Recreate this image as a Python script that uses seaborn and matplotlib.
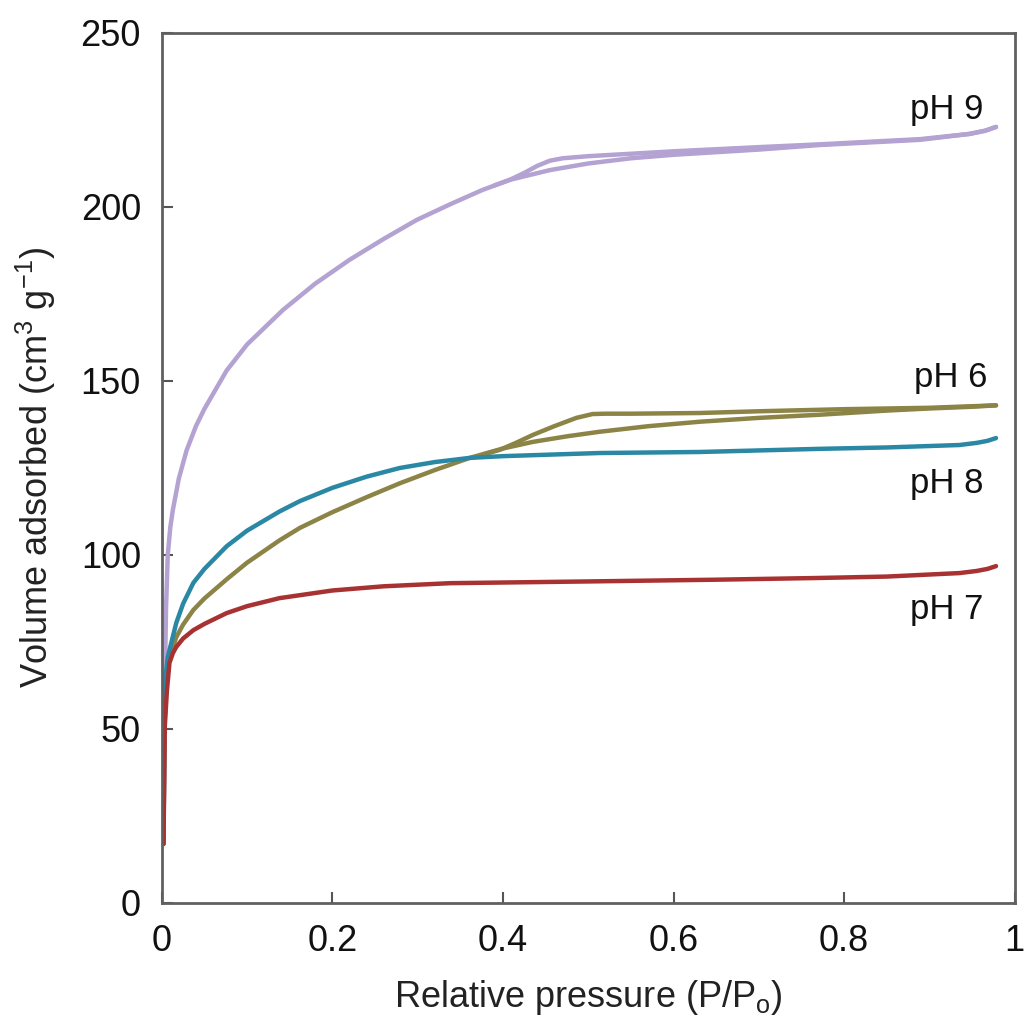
import numpy as np
import matplotlib
matplotlib.use('Agg')
import matplotlib.pyplot as plt
import seaborn as sns

# pH 9 isotherm (adsorption / desorption branch)
x_ph9_ads = [0.002, 0.003, 0.004, 0.005, 0.007, 0.01, 0.013, 0.02, 0.029, 0.04, 0.05, 0.076, 0.1, 0.142,
             0.18, 0.22, 0.26, 0.299, 0.34, 0.376, 0.408, 0.455, 0.5, 0.55, 0.6, 0.7, 0.771, 0.889,
             0.947, 0.965, 0.978]
y_ph9_ads = [17, 45, 70, 85, 100, 108, 113, 122, 130, 137, 142, 153, 160.5, 170.4,
             178, 184.8, 190.8, 196.3, 201, 204.9, 207.8, 210.6, 212.5, 214, 215, 216.5, 217.8, 219.3,
             221.0, 221.9, 223]
x_ph9_des = [0.978, 0.965, 0.947, 0.889, 0.771, 0.7, 0.6, 0.5, 0.47, 0.455, 0.44, 0.425, 0.408, 0.39]
y_ph9_des = [223, 221.9, 221.0, 219.5, 218, 217.2, 216, 214.6, 214, 213.3, 211.8, 209.8, 207.8, 206.2]

# pH 6
x_ph6_ads = [0.002, 0.003, 0.005, 0.009, 0.017, 0.025, 0.037, 0.05, 0.076, 0.1, 0.138, 0.162, 0.2,
             0.24, 0.279, 0.32, 0.361, 0.4, 0.435, 0.475, 0.513, 0.57, 0.631, 0.7, 0.771, 0.85, 0.9,
             0.95, 0.978]
y_ph6_ads = [17, 50, 62, 70.7, 76.4, 80, 84.2, 87.5, 93, 97.8, 104.2, 107.8, 112.3,
             116.6, 120.6, 124.4, 127.9, 130.6, 132.5, 134.1, 135.4, 137, 138.3, 139.4, 140.3, 141.5, 142.1,
             142.6, 143]
x_ph6_des = [0.978, 0.9, 0.8, 0.7, 0.631, 0.55, 0.52, 0.505, 0.486, 0.46, 0.435, 0.415, 0.396, 0.38]
y_ph6_des = [143, 142.3, 141.9, 141.3, 140.8, 140.6, 140.6, 140.5, 139.4, 137, 134.5, 132.2, 130.2, 129.1]

# pH 8
x_ph8 = [0.002, 0.0035, 0.007, 0.017, 0.025, 0.037, 0.05, 0.076, 0.1, 0.138, 0.162, 0.2, 0.24, 0.279,
         0.32, 0.361, 0.4, 0.45, 0.513, 0.631, 0.771, 0.85, 0.935, 0.955, 0.968, 0.978]
y_ph8 = [17, 63, 70.7, 80.5, 86, 92, 96, 102.5, 107, 112.5, 115.5, 119.3, 122.5, 125,
         126.7, 127.9, 128.4, 128.8, 129.3, 129.6, 130.5, 130.9, 131.6, 132.2, 132.8, 133.6]

# pH 7
x_ph7 = [0.002, 0.0035, 0.006, 0.009, 0.013, 0.017, 0.025, 0.037, 0.05, 0.076, 0.1, 0.138, 0.2, 0.26,
         0.338, 0.5, 0.65, 0.771, 0.85, 0.935, 0.955, 0.968, 0.978]
y_ph7 = [17, 50.6, 61, 69, 71.8, 73.6, 76, 78.4, 80.2, 83.3, 85.3, 87.6, 89.8, 91,
         91.9, 92.4, 92.9, 93.4, 93.8, 94.8, 95.4, 96, 96.8]

labels = ['pH 9', 'pH 6', 'pH 8', 'pH 7']
label_x = [0.92, 0.925, 0.92, 0.92]
label_y = [228, 151, 120.4, 84.2]
colors = {'pH 9': '#b3a2d2', 'pH 6': '#8c8446', 'pH 8': '#2a88a5', 'pH 7': '#a83232'}

x_ticks = [0, 0.2, 0.4, 0.6, 0.8, 1]
x_ticklabels = ['0', '0.2', '0.4', '0.6', '0.8', '1']
y_ticks = [0, 50, 100, 150, 200, 250]

sns.set_style('white')
plt.rcParams['font.family'] = ['Liberation Sans', 'DejaVu Sans']
plt.rcParams['mathtext.fontset'] = 'custom'
plt.rcParams['mathtext.rm'] = 'Liberation Sans'
plt.rcParams['mathtext.it'] = 'Liberation Sans'

fig = plt.figure(figsize=(10.24, 10.34), dpi=100)
ax = fig.add_axes([0.158, 0.1267, 0.833, 0.8414])

lw = 3.2
kw = dict(sort=False, estimator=None, lw=lw, ax=ax, solid_joinstyle='round', solid_capstyle='round')
sns.lineplot(x=x_ph9_ads, y=y_ph9_ads, color=colors['pH 9'], **kw)
sns.lineplot(x=x_ph9_des, y=y_ph9_des, color=colors['pH 9'], **kw)
sns.lineplot(x=x_ph6_ads, y=y_ph6_ads, color=colors['pH 6'], **kw)
sns.lineplot(x=x_ph6_des, y=y_ph6_des, color=colors['pH 6'], **kw)
sns.lineplot(x=x_ph8, y=y_ph8, color=colors['pH 8'], **kw)
sns.lineplot(x=x_ph7, y=y_ph7, color=colors['pH 7'], **kw)

for lab, xv, yv in zip(labels, label_x, label_y):
    ax.text(xv, yv, lab, fontsize=25, ha='center', va='center', color='#111111')

ax.set_xlim(0, 1)
ax.set_ylim(0, 250)
ax.set_xticks(x_ticks)
ax.set_xticklabels(x_ticklabels)
ax.set_yticks(y_ticks)
ax.tick_params(bottom=True, left=True, direction='in', length=8, width=1.5, color='#555555',
               labelsize=26, pad=15, labelcolor='#111111')
for s in ax.spines.values():
    s.set_color('#606060')
    s.set_linewidth(2)

ax.set_xlabel('Relative pressure (P/P$_\\mathrm{o}$)', fontsize=26, labelpad=14, color='#222222')
ax.set_ylabel('Volume adsorbed (cm$^3$ g$^{-1}$)', fontsize=26, labelpad=16, color='#222222')

fig.savefig('out.png', dpi=100)
